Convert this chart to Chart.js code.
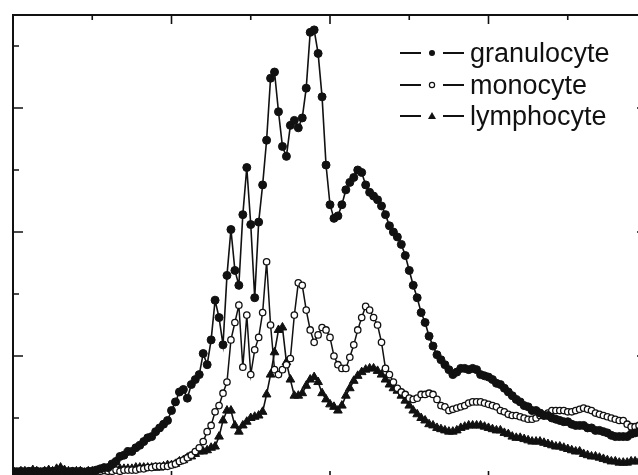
<!DOCTYPE html>
<html lang="en">
<head>
<meta charset="UTF-8">
<title>granulocyte / monocyte / lymphocyte</title>
<script src="https://cdn.jsdelivr.net/npm/chart.js@4.4.1/dist/chart.umd.min.js"></script>
<style>
  html, body { margin: 0; padding: 0; background: #fff; overflow: hidden; }
  #wrap { position: relative; width: 638px; height: 475px; overflow: hidden; }
  #chart { position: absolute; left: 0; top: 0; }
  .key { position: absolute; left: 400px; width: 230px; height: 32px;
         font-family: "Liberation Sans", Arial, sans-serif; font-size: 27px;
         line-height: 32px; color: #111; white-space: nowrap; }
  .key svg { position: absolute; left: 0; top: 0; }
  .key span { position: absolute; left: 70px; top: 0; }
</style>
</head>
<body>
<div id="wrap">
  <canvas id="chart" width="660" height="490"></canvas>

  <div class="key" style="top:37px">
    <svg width="64" height="32">
      <line x1="0" y1="16" x2="21" y2="16" stroke="#111" stroke-width="2"/>
      <line x1="43" y1="16" x2="64" y2="16" stroke="#111" stroke-width="2"/>
      <circle cx="32" cy="16" r="3" fill="#111"/>
    </svg>
    <span>granulocyte</span>
  </div>
  <div class="key" style="top:68.5px">
    <svg width="64" height="32">
      <line x1="0" y1="16" x2="21" y2="16" stroke="#111" stroke-width="2"/>
      <line x1="43" y1="16" x2="64" y2="16" stroke="#111" stroke-width="2"/>
      <circle cx="32" cy="16" r="2.6" fill="#fff" stroke="#111" stroke-width="1.2"/>
    </svg>
    <span>monocyte</span>
  </div>
  <div class="key" style="top:100px">
    <svg width="64" height="32">
      <line x1="0" y1="16" x2="21" y2="16" stroke="#111" stroke-width="2"/>
      <line x1="43" y1="16" x2="64" y2="16" stroke="#111" stroke-width="2"/>
      <polygon points="32,12 36,19 28,19" fill="#111"/>
    </svg>
    <span>lymphocyte</span>
  </div>
</div>

<script>
  // x grid: one reading every 2.5 units, from 0 to 400
  const xStart = 0;
  const xStep = 2.5;

  // intensity (arbitrary units, major tick = 100)
  const granulocyte = [
    7,6,7,6,7,6,7,6,7,6, 7,7,8,7,6,7,6,7,6,7,
    7,8,9,10,10,13,15,19,20,23, 23,26,28,31,34,35,39,42,45,48,
    56,63,71,73,66,77,81,85,102,93, 113,145,131,109,165,202,169,157,214,252,
    206,147,208,238,274,324,329,297,269,261, 286,290,284,292,316,361,363,344,309,254,
    222,211,213,222,234,240,244,250,248,238, 232,229,226,221,214,205,200,196,190,181,
    169,157,147,135,127,116,108,101,97,93, 89,85,87,90,90,89,90,89,85,84,
    83,81,78,77,74,71,68,65,63,60, 59,56,56,54,52,52,50,49,48,47,
    47,45,44,44,44,42,42,40,40,39, 38,36,35,35,35,35,37,38,39,38,
    37
  ];

  const monocyte = [
    7,7,6,7,7,6,7,7,6,7, 7,6,7,7,6,7,7,7,6,7,
    7,7,7,8,7,7,8,7,8,8, 8,8,9,9,10,10,11,11,11,11,
    12,13,15,16,18,20,23,26,31,39, 44,55,60,70,79,113,127,141,91,133,
    85,105,115,135,176,125,89,85,89,93, 98,133,159,157,137,121,111,117,123,121,
    115,100,93,90,90,99,109,121,131,140, 137,131,125,111,90,85,79,74,71,69,
    66,65,66,69,69,70,69,65,60,59, 56,57,58,59,60,62,63,63,63,62,
    61,60,59,56,55,53,52,52,51,50, 49,49,50,52,52,54,56,56,56,56,
    55,55,56,57,58,57,56,54,53,52, 51,50,49,48,48,45,43,43,44,44,
    43
  ];

  const lymphocyte = [
    7,6,7,7,6,8,7,6,7,8, 7,9,10,8,7,6,7,7,6,7,
    7,7,8,7,8,8,8,9,9,9, 9,10,10,10,10,10,10,10,11,12,
    12,13,15,16,18,19,21,23,23,24, 26,27,35,48,56,56,44,39,44,47,
    50,51,52,55,69,85,103,121,123,95, 81,68,68,70,76,81,83,79,70,65,
    61,59,56,60,68,74,80,84,87,89, 90,90,88,85,81,77,74,72,68,64,
    60,56,53,50,48,45,44,42,41,40, 39,39,40,42,43,44,44,44,44,43,
    42,41,40,40,38,37,35,34,34,33, 32,31,31,31,30,29,28,27,27,26,
    25,24,23,23,21,20,19,19,18,17, 16,15,15,14,14,14,15,15,15,14,
    14
  ];

  // tick positions (no labels shown in the picture)
  const xMajorTicks = [0, 100, 200, 300, 400];
  const xMinorTicks = [50, 150, 250, 350];
  const yMajorTicks = [0, 100, 200, 300];
  const yMinorTicks = [50, 150, 250, 350];

  function toPoints(values) {
    return values.map((v, i) => ({ x: xStart + i * xStep, y: v }));
  }

  // box round the plot with inward ticks on all four sides
  const frame = {
    id: 'frame',
    afterDatasetsDraw(chart) {
      const ctx = chart.ctx;
      const a = chart.chartArea;
      const xs = chart.scales.x, ys = chart.scales.y;
      ctx.save();
      ctx.strokeStyle = '#111';
      ctx.lineWidth = 2;
      ctx.strokeRect(a.left, a.top, a.right - a.left, a.bottom - a.top);
      ctx.lineWidth = 1.6;
      ctx.beginPath();
      function xt(list, len) {
        list.forEach(v => {
          const p = xs.getPixelForValue(v);
          ctx.moveTo(p, a.top); ctx.lineTo(p, a.top + len);
          ctx.moveTo(p, a.bottom); ctx.lineTo(p, a.bottom - len);
        });
      }
      function yt(list, len) {
        list.forEach(v => {
          const p = ys.getPixelForValue(v);
          ctx.moveTo(a.left, p); ctx.lineTo(a.left + len, p);
          ctx.moveTo(a.right, p); ctx.lineTo(a.right - len, p);
        });
      }
      xt(xMajorTicks, 9); xt(xMinorTicks, 5);
      yt(yMajorTicks, 10); yt(yMinorTicks, 6);
      ctx.stroke();
      ctx.restore();
    }
  };

  const ctx = document.getElementById('chart').getContext('2d');
  const chart = new Chart(ctx, {
    type: 'line',
    data: {
      datasets: [
        {
          label: 'granulocyte',
          data: toPoints(granulocyte),
          borderColor: '#111', borderWidth: 1.6,
          pointStyle: 'circle', pointRadius: 4,
          pointBackgroundColor: '#111', pointBorderColor: '#111', pointBorderWidth: 1
        },
        {
          label: 'monocyte',
          data: toPoints(monocyte),
          borderColor: '#111', borderWidth: 1.5,
          pointStyle: 'circle', pointRadius: 3.2,
          pointBackgroundColor: '#fff', pointBorderColor: '#111', pointBorderWidth: 1.3
        },
        {
          label: 'lymphocyte',
          data: toPoints(lymphocyte),
          borderColor: '#111', borderWidth: 1.6,
          pointStyle: 'triangle', pointRadius: 5,
          pointBackgroundColor: '#111', pointBorderColor: '#111', pointBorderWidth: 1
        }
      ]
    },
    options: {
      responsive: false,
      animation: false,
      layout: { padding: { left: 13, top: 15, right: 13, bottom: 10 } },
      elements: { line: { tension: 0 } },
      scales: {
        x: { type: 'linear', min: 0, max: 400, display: false },
        y: { type: 'linear', min: 0, max: 375, display: false }
      },
      plugins: {
        legend: { display: false },
        tooltip: { enabled: false }
      }
    },
    plugins: [frame]
  });
</script>
</body>
</html>
